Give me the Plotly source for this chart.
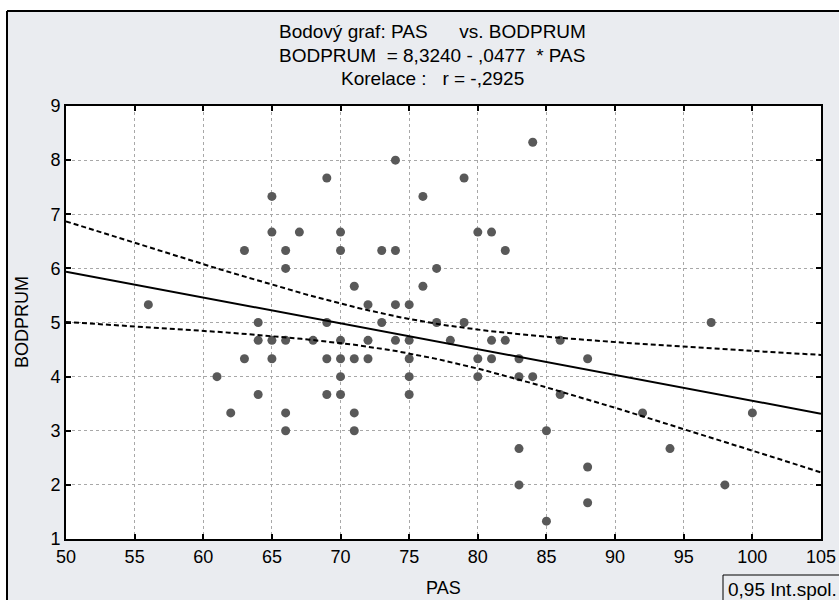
import numpy as np
import plotly.graph_objects as go

# ---- data ----
pas = [56, 61, 62, 63, 63, 64, 64, 64, 65, 65, 65, 65, 66, 66, 66, 66, 66, 67, 68,
       69, 69, 69, 69, 70, 70, 70, 70, 70, 70, 71, 71, 71, 71, 72, 72, 72, 73, 73,
       74, 74, 74, 74, 75, 75, 75, 75, 75, 76, 76, 77, 77, 78, 79, 79, 80, 80, 80,
       81, 81, 81, 82, 82, 83, 83, 83, 83, 84, 84, 85, 85, 86, 86, 88, 88, 88, 92,
       94, 97, 98, 100]
bodprum = [5.33, 4.00, 3.33, 6.33, 4.33, 5.00, 4.67, 3.67, 7.33, 6.67, 4.67, 4.33,
           6.33, 6.00, 4.67, 3.33, 3.00, 6.67, 4.67,
           7.67, 5.00, 4.33, 3.67, 6.67, 6.33, 4.67, 4.33, 4.00, 3.67, 5.67, 4.33,
           3.33, 3.00, 5.33, 4.67, 4.33, 6.33, 5.00,
           8.00, 6.33, 5.33, 4.67, 5.33, 4.67, 4.33, 4.00, 3.67, 7.33, 5.67, 6.00,
           5.00, 4.67, 7.67, 5.00, 6.67, 4.33, 4.00,
           6.67, 4.67, 4.33, 6.33, 4.67, 4.33, 4.00, 2.67, 2.00, 8.33, 4.00, 3.00,
           1.33, 4.67, 3.67, 4.33, 2.33, 1.67, 3.33,
           2.67, 5.00, 2.00, 3.33]

INTERCEPT = 8.3240
SLOPE = -0.0477
T_975 = 1.991  # t quantile, df = n-2
x_ticks = [50, 55, 60, 65, 70, 75, 80, 85, 90, 95, 100, 105]
y_ticks = [1, 2, 3, 4, 5, 6, 7, 8, 9]

title_lines = ["Bodový graf: PAS      vs. BODPRUM",
               "BODPRUM  = 8,3240 - ,0477  * PAS",
               "Korelace :   r = -,2925"]
x_title = "PAS"
y_title = "BODPRUM"
legend_text = "0,95 Int.spol."

# ---- regression line & 95% confidence band ----
x = np.array(pas, float)
y = np.array(bodprum, float)
n = len(x)
resid = y - (INTERCEPT + SLOPE * x)
s = np.sqrt(np.sum(resid ** 2) / (n - 2))
xbar = x.mean()
sxx = np.sum((x - xbar) ** 2)
xs = np.linspace(x_ticks[0], x_ticks[-1], 200)
yhat = INTERCEPT + SLOPE * xs
hw = T_975 * s * np.sqrt(1 / n + (xs - xbar) ** 2 / sxx)

FONT = "Liberation Sans, Arial, sans-serif"
BG = "#eaecf0"

fig = go.Figure()
fig.add_trace(go.Scatter(x=pas, y=bodprum, mode="markers",
                         marker=dict(size=9, color="#595959"),
                         showlegend=False, hoverinfo="x+y"))
fig.add_trace(go.Scatter(x=xs, y=yhat, mode="lines",
                         line=dict(color="black", width=2), showlegend=False))
fig.add_trace(go.Scatter(x=xs, y=yhat + hw, mode="lines",
                         line=dict(color="black", width=2, dash="5px,3px"),
                         showlegend=False))
fig.add_trace(go.Scatter(x=xs, y=yhat - hw, mode="lines",
                         line=dict(color="black", width=2, dash="5px,3px"),
                         showlegend=False))

W, H = 839, 600
L, R, T, B = 66, 18, 106, 61
pw, ph = W - L - R, H - T - B


def px(xp):
    return (xp - L) / pw


def py(yp):
    return (H - B - yp) / ph


shapes = [
    dict(type="rect", xref="paper", yref="paper", x0=px(-5), x1=px(W + 5),
         y0=py(11), y1=py(-5), fillcolor="white", line=dict(width=0), layer="below"),
    dict(type="rect", xref="paper", yref="paper", x0=px(-5), x1=px(7),
         y0=py(H + 5), y1=py(-5), fillcolor="white", line=dict(width=0), layer="below"),
    dict(type="line", xref="paper", yref="paper", x0=px(7), x1=px(W + 5),
         y0=py(11), y1=py(11), line=dict(color="black", width=2)),
    dict(type="line", xref="paper", yref="paper", x0=px(7), x1=px(7),
         y0=py(11), y1=py(H + 5), line=dict(color="black", width=2)),
    dict(type="rect", xref="paper", yref="paper", x0=px(723), x1=px(W + 10),
         y0=py(H + 10), y1=py(575), line=dict(color="black", width=1),
         fillcolor=BG),
]

annotations = []
for i, t in enumerate(title_lines):
    annotations.append(dict(text=t, xref="paper", yref="paper",
                            x=px(432), y=py(32 + 23 * i), xanchor="center",
                            yanchor="middle", showarrow=False,
                            font=dict(family=FONT, size=19, color="black")))
annotations.append(dict(text=legend_text, xref="paper", yref="paper",
                        x=px(726), y=py(589), xanchor="left", yanchor="middle",
                        showarrow=False,
                        font=dict(family=FONT, size=19, color="black")))
annotations.append(dict(text=x_title, xref="paper", yref="paper",
                        x=px(443), y=py(588), xanchor="center", yanchor="middle",
                        showarrow=False,
                        font=dict(family=FONT, size=18, color="black")))
annotations.append(dict(text=y_title, xref="paper", yref="paper",
                        x=px(22), y=py(322), xanchor="center", yanchor="middle",
                        textangle=-90, showarrow=False,
                        font=dict(family=FONT, size=18, color="black")))

axis_common = dict(showline=True, linecolor="black", linewidth=2, mirror="ticks",
                   ticks="inside", ticklen=5, tickcolor="black", tickwidth=1.5,
                   showgrid=True, gridcolor="#a8a8a8", griddash="dot", gridwidth=1,
                   zeroline=False, automargin=False,
                   tickfont=dict(family=FONT, size=18, color="black"))

fig.update_layout(
    width=W, height=H, margin=dict(l=L, r=R, t=T, b=B, autoexpand=False),
    paper_bgcolor=BG, plot_bgcolor="white",
    xaxis=dict(range=[x_ticks[0], x_ticks[-1]], tickvals=x_ticks, **axis_common),
    yaxis=dict(range=[y_ticks[0], y_ticks[-1]], tickvals=y_ticks, **axis_common),
    shapes=shapes, annotations=annotations, showlegend=False,
)

fig.write_html("out.html")
